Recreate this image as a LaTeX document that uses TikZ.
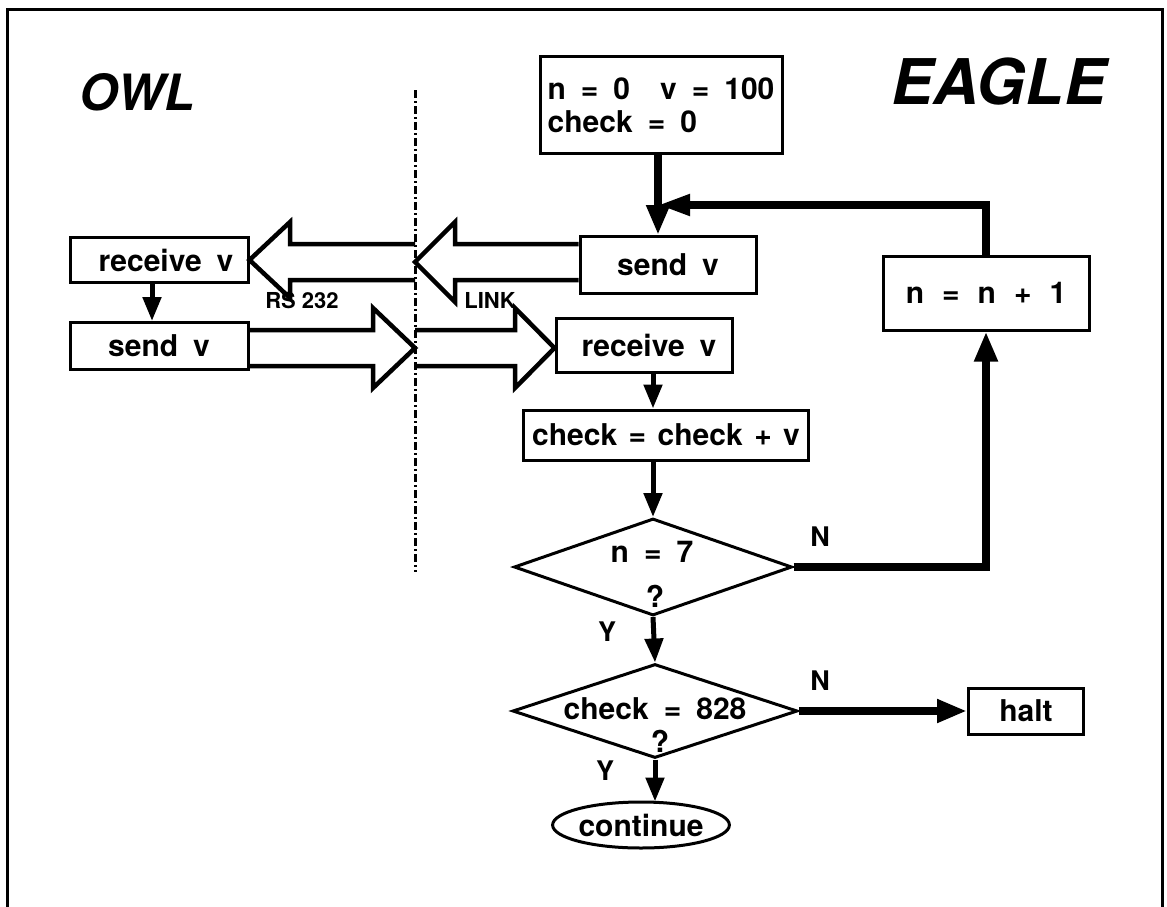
\documentclass[tikz,border=0pt]{standalone}
\usepackage{fontspec}
\setmainfont{TeX Gyre Heros}
\usetikzlibrary{arrows.meta,shapes.geometric}
\newcommand{\wsp}{\hskip0.5em\relax}
\newcommand{\nsp}{\hskip0.38em\relax}
\begin{document}
\begin{tikzpicture}[x=1pt,y=-1pt,
  txt/.style={font=\bfseries\fontsize{30}{33}\selectfont},
  box/.style={txt,draw,line width=3pt,inner sep=0pt},
  dia/.style={draw,diamond,line width=3pt,inner sep=0pt},
  thk/.style={line width=7.5pt,-{Triangle[length=30pt,width=22pt]}},
  med/.style={line width=5pt,-{Triangle[length=24pt,width=18pt]}},
  hol/.style={line width=4.5pt,line join=miter},
  lbl/.style={font=\bfseries\fontsize{27}{29}\selectfont},
  small/.style={font=\bfseries\fontsize{22}{24}\selectfont},
  title/.style={font=\bfseries\itshape\fontsize{50}{52}\selectfont}]
\useasboundingbox (0,0) rectangle (1167,907);
% frame
\draw[line width=3pt] (7,907) -- (7,10) -- (1162,10) -- (1162,907);
% titles
\node[title] (owl) at (137,92) {OWL};
\node[title,font=\bfseries\itshape\fontsize{63}{65}\selectfont] (eagle) at (999,82) {EAGLE};
% dash-dot divider
\coordinate (divtop) at (415,90);
\coordinate (divbot) at (415,572);
\draw[line width=3pt,dash pattern=on 8pt off 3pt on 2pt off 3pt] (divtop) -- (divbot);
% boxes
\node[box,minimum width=242,minimum height=97,align=left] (init) at (661,105) {n\wsp=\wsp0\wsp\wsp v\wsp=\wsp100\\check\wsp=\wsp0};
\node[box,minimum width=176,minimum height=57] (esend) at (668,265) {send\wsp v};
\node[box,minimum width=206,minimum height=74] (nn) at (986,293) {n\hskip0.6em=\hskip0.6em n\hskip0.6em+\hskip0.6em1};
\node[box,minimum width=178,minimum height=45] (orecv) at (159,260) {\hskip14pt receive\wsp v};
\node[box,minimum width=178,minimum height=47] (osend) at (159,346) {send\wsp v};
\node[box,minimum width=176,minimum height=54] (erecv) at (644,345) {\hskip10pt receive\wsp v};
\node[box,minimum width=285,minimum height=50] (check) at (666,435) {check\nsp=\nsp check\nsp+\nsp v};
\node[dia,minimum width=278,minimum height=97] (d1) at (653,567) {};
\node[txt] (d1t) at (652,552) {n\wsp=\wsp7};
\node[txt] (d1q) at (655,596) {?};
\node[dia,minimum width=285,minimum height=94] (d2) at (655,711) {};
\node[txt] (d2t) at (655,709) {check\wsp=\wsp828};
\node[txt] (d2q) at (660,741) {?};
\node[box,minimum width=115,minimum height=46] (halt) at (1026,711) {halt};
\node[box,ellipse,minimum width=167,minimum height=46] (cont) at (641,825) {continue};
% labels
\node[small] (rs) at (302,300) {RS 232};
\node[small] (link) at (490,300) {LINK};
\node[lbl] (n1) at (820,537) {N};
\node[lbl] (n2) at (820,681) {N};
\node[lbl] (y1) at (607,632) {Y};
\node[lbl] (y2) at (605,771) {Y};
% connectors
\coordinate (fb) at (658,205);
\draw[thk] (init.south -| fb) -- (esend.north -| fb);
\draw[thk,-{Triangle[length=32pt,width=20pt]}] (nn.north) |- (fb);
\draw[thk] (d1.east) -| (nn.south);
\draw[med] (orecv.south -| 152,0) -- (osend.north -| 152,0);
\draw[med] (erecv.south -| d1.north) -- (check.north -| d1.north);
\draw[med] (check.south -| d1.north) -- (d1.north);
\draw[med] (d1.south) -- (d2.north);
\draw[thk] (d2.east) -- (halt.west);
\draw[med] (d2.south) -- ([yshift=-1pt]cont.north -| d2.south);
% hollow arrows (RS 232 / LINK)
\draw[hol] (esend.west |- 0,244) -- (455,244) -- (455,222) -- (divtop |- 0,262) -- (455,302) -- (455,280) -- (esend.west |- 0,280);
\draw[hol] (divtop |- 0,244) -- (290,244) -- (290,222) -- (orecv.east) -- (290,298) -- (290,280) -- (divtop |- 0,280);
\draw[hol] (osend.east |- 0,330) -- (373,330) -- (373,308) -- (divtop |- 0,348) -- (373,388) -- (373,366) -- (osend.east |- 0,366);
\draw[hol] (divtop |- 0,330) -- (515,330) -- (515,308) -- (erecv.west |- 0,348) -- (515,388) -- (515,366) -- (divtop |- 0,366);
\end{tikzpicture}
\end{document}
